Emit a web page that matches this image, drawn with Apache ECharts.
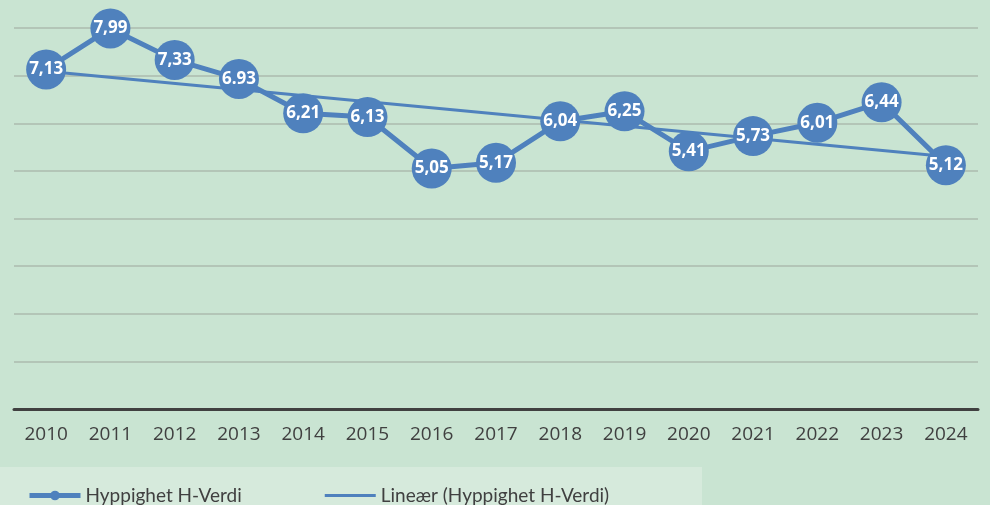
<!DOCTYPE html>
<html>
<head>
<meta charset="utf-8">
<script src="https://cdn.jsdelivr.net/npm/echarts@6/dist/echarts.min.js"></script>
<style>
  html, body { margin: 0; padding: 0; background: #c9e4d2; }
  #chart { width: 990px; height: 505px; }
</style>
</head>
<body>
<div id="chart"></div>
<script>
// data
const years = ['2010', '2011', '2012', '2013', '2014', '2015', '2016', '2017', '2018', '2019', '2020', '2021', '2022', '2023', '2024'];
const hVerdi = [7.13, 7.99, 7.33, 6.93, 6.21, 6.13, 5.05, 5.17, 6.04, 6.25, 5.41, 5.73, 6.01, 6.44, 5.12];
const pointLabels = ['7,13', '7,99', '7,33', '6.93', '6,21', '6,13', '5,05', '5,17', '6,04', '6,25', '5,41', '5,73', '6,01', '6,44', '5,12'];
const trendEnds = [['2010', 7.09], ['2024', 5.30]];

const blue = '#4f81bd';
const chart = echarts.init(document.getElementById('chart'));

chart.setOption({
    backgroundColor: '#c9e4d2',
    animation: false,
    grid: { left: 14, right: 12, top: 28, bottom: 96 },
    graphic: [{
        type: 'rect',
        left: 0, top: 467, z: -10,
        shape: { width: 702, height: 38 },
        style: { fill: '#d6eadc' }
    }],
    legend: {
        left: 22, top: 481,
        itemWidth: 51, itemHeight: 12,
        itemGap: 83,
        textStyle: { fontFamily: 'Lato', fontSize: 19, color: '#404040' },
        data: [
            { name: 'Hyppighet H-Verdi', lineStyle: { width: 5 } },
            { name: 'Lineær (Hyppighet H-Verdi)', icon: 'path://M0,0L51,0L51,3L0,3Z', itemStyle: { color: blue } }
        ]
    },
    xAxis: {
        type: 'category',
        data: years,
        axisLine: { lineStyle: { color: '#404040', width: 3 } },
        axisTick: { show: false },
        axisLabel: { color: '#404040', fontFamily: 'Open Sans', fontSize: 19, margin: 16 }
    },
    yAxis: {
        type: 'value',
        min: 0, max: 8, interval: 1,
        axisLabel: { show: false },
        axisLine: { show: false },
        axisTick: { show: false },
        splitLine: { lineStyle: { color: '#b3c5b7', width: 2 } }
    },
    series: [
        {
            name: 'Lineær (Hyppighet H-Verdi)',
            type: 'line',
            data: trendEnds,
            symbol: 'none',
            z: 1,
            lineStyle: { color: blue, width: 3 },
            itemStyle: { color: blue }
        },
        {
            name: 'Hyppighet H-Verdi',
            type: 'line',
            data: hVerdi,
            symbol: 'circle',
            symbolSize: 40,
            z: 2,
            lineStyle: { color: blue, width: 5 },
            itemStyle: { color: blue },
            label: {
                show: true,
                position: 'inside',
                color: '#ffffff',
                fontFamily: 'Open Sans',
                fontWeight: 'bold',
                fontSize: 17,
                formatter: p => pointLabels[p.dataIndex]
            }
        }
    ]
});

window.addEventListener('resize', () => chart.resize());
</script>
</body>
</html>
